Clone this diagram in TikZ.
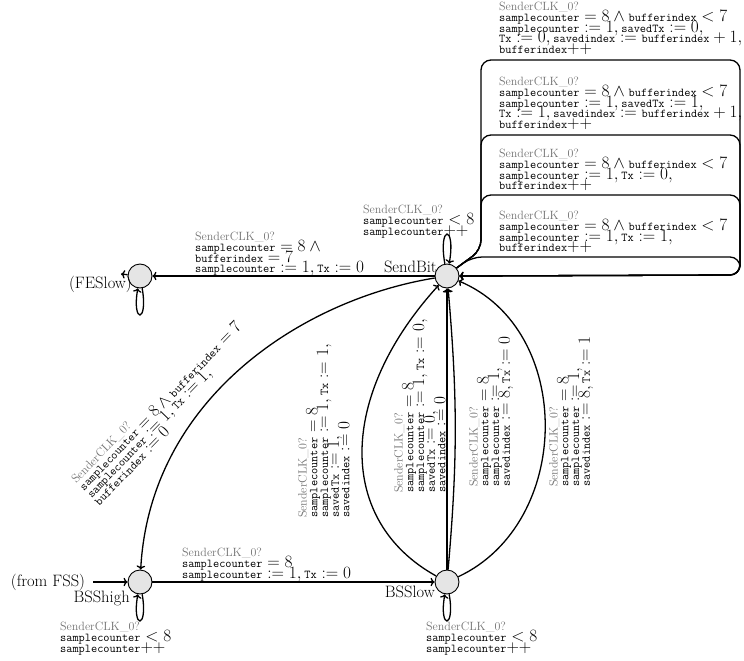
\documentclass[tikz,border=0pt]{standalone}
\usetikzlibrary{arrows.meta}
% label fonts: math operators large, variables in typewriter, channel in small grey roman
\newcommand\lblfont{\fontsize{16.5}{10.7}\selectfont\lineskiplimit=-100pt\lineskip=0pt}
\newcommand\vr[1]{\mbox{\fontsize{12}{10.7}\selectfont\ttfamily #1}}
\newcommand\syn{{\color{black!55}\fontsize{12}{10.7}\selectfont SenderCLK\_0?}}
\begin{document}
\begin{tikzpicture}[x=1pt,y=1pt,
  state/.style={circle,draw,line width=0.9pt,fill=black!10,minimum size=24pt,inner sep=0pt},
  edge/.style={line width=1.3pt,-{To[length=4pt,width=8.5pt]}},
  lbl/.style={font=\lblfont,align=left,inner sep=0pt,anchor=north west},
  sname/.style={font=\fontsize{16.5}{18}\selectfont,inner sep=0pt},
  selfloop/.style={edge,loop,looseness=1,min distance=36pt}]
\useasboundingbox (0,0) rectangle (744,-661);

% locations
\node[state] (FESlow)  at (140,-276) {};
\node[state] (SendBit) at (447,-276) {};
\node[state] (BSShigh) at (140,-582) {};
\node[state] (BSSlow)  at (447,-582) {};

% location names
\node[sname,anchor=base east] (nSendBit) at (437,-272) {SendBit};
\node[sname,anchor=base east] (nFESlow) at (132,-288) {(FESlow)};
\node[sname,anchor=base east] (nBSShigh) at (130,-602) {BSShigh};
\node[sname,anchor=base east] (nBSSlow) at (435,-597) {BSSlow};
\node[sname] (fromFSS) at (48,-582) {(from FSS)};

% entry and exit stubs
\draw[edge,shorten <=8pt] (fromFSS) -- (BSShigh);
\coordinate (FESlowexit) at (121,-274);
\draw[edge] (FESlow) -- (FESlowexit);

% self loops
\draw[selfloop,out=-80,in=-100] (FESlow) to (FESlow);
\draw[selfloop,out=100,in=80,min distance=40pt] (SendBit) to (SendBit);
\draw[selfloop,out=-80,in=-100] (BSShigh) to (BSShigh);
\draw[selfloop,out=-80,in=-100] (BSSlow) to (BSSlow);

% transitions
\draw[edge] (SendBit) -- (FESlow);
\draw[edge] (SendBit) .. controls (300,-300) and (150,-400) .. (BSShigh);
\draw[edge] (BSShigh) -- (BSSlow);
\draw[edge] (BSSlow) -- (SendBit);
\draw[edge] (BSSlow) to[bend right=5] (SendBit);
\draw[edge] (BSSlow) .. controls (337,-521) and (337,-397) .. (SendBit);
\draw[edge] (BSSlow) .. controls (573,-523) and (575,-330) .. (SendBit);

% bit sending loops on the right
\begin{scope}[rounded corners=10pt]
\draw[edge] (SendBit.40) -- (481,-250) -- (481,-60) -- (740,-60) -- (740,-275) -- (SendBit.east);
\draw[edge] (SendBit.40) -- (481,-250) -- (481,-135) -- (740,-135) -- (740,-275) -- (SendBit.east);
\draw[edge] (SendBit.40) -- (481,-250) -- (481,-195) -- (740,-195) -- (740,-275) -- (SendBit.east);
\draw[edge] (SendBit.40) -- (472,-257) -- (740,-257) -- (740,-275) -- (SendBit.east);
\end{scope}

% guards and updates
\node[lbl] (lFE) at (195,-232) {\syn\\ $\vr{samplecounter} = 8 \mathbin{\wedge}{}$\\ $\vr{bufferindex} = 7$\\ $\vr{samplecounter} := 1, \vr{Tx} := 0$};
\node[lbl] (lSB) at (363,-205) {\syn\\ $\vr{samplecounter} < 8$\\ $\vr{samplecounter}{+}{+}$};
\node[lbl] (lHi) at (60,-622) {\syn\\ $\vr{samplecounter} < 8$\\ $\vr{samplecounter}{+}{+}$};
\node[lbl] (lLo) at (426,-622) {\syn\\ $\vr{samplecounter} < 8$\\ $\vr{samplecounter}{+}{+}$};
\node[lbl] (lHL) at (182,-548) {\syn\\ $\vr{samplecounter} = 8$\\ $\vr{samplecounter} := 1, \vr{Tx} := 0$};

\node[lbl] (r1) at (499,-2) {\syn\\ $\vr{samplecounter} = 8 \wedge \vr{bufferindex} < 7$\\ $\vr{samplecounter} := 1, \vr{savedTx} := 0,$\\ $\vr{Tx} := 0, \vr{savedindex} := \vr{bufferindex} + 1,$\\ $\vr{bufferindex}{+}{+}$};
\node[lbl] (r2) at (499,-77) {\syn\\ $\vr{samplecounter} = 8 \wedge \vr{bufferindex} < 7$\\ $\vr{samplecounter} := 1, \vr{savedTx} := 1,$\\ $\vr{Tx} := 1, \vr{savedindex} := \vr{bufferindex} + 1,$\\ $\vr{bufferindex}{+}{+}$};
\node[lbl] (r3) at (499,-149) {\syn\\ $\vr{samplecounter} = 8 \wedge \vr{bufferindex} < 7$\\ $\vr{samplecounter} := 1, \vr{Tx} := 0,$\\ $\vr{bufferindex}{+}{+}$};
\node[lbl] (r4) at (499,-211) {\syn\\ $\vr{samplecounter} = 8 \wedge \vr{bufferindex} < 7$\\ $\vr{samplecounter} := 1, \vr{Tx} := 1,$\\ $\vr{bufferindex}{+}{+}$};

\node[lbl,rotate=46] (lDiag) at (70,-478) {\syn\\ $\vr{samplecounter} = 8 \wedge \vr{bufferindex} = 7$\\ $\vr{samplecounter} := 1, \vr{Tx} := 1,$\\ $\vr{bufferindex} := 0$};
\node[lbl,rotate=90] (v1) at (298,-518) {\syn\\ $\vr{samplecounter} = 8$\\ $\vr{samplecounter} := 1, \vr{Tx} := 1,$\\ $\vr{savedTx} := 1,$\\ $\vr{savedindex} := 0$};
\node[lbl,rotate=90] (v2) at (394,-493) {\syn\\ $\vr{samplecounter} = 8$\\ $\vr{samplecounter} := 1, \vr{Tx} := 0,$\\ $\vr{savedTx} := 0,$\\ $\vr{savedindex} := 0$};
\node[lbl,rotate=90] (v3) at (469,-487) {\syn\\ $\vr{samplecounter} = 8$\\ $\vr{samplecounter} := 1,$\\ $\vr{savedindex} := 8, \vr{Tx} := 0$};
\node[lbl,rotate=90] (v4) at (549,-487) {\syn\\ $\vr{samplecounter} = 8$\\ $\vr{samplecounter} := 1,$\\ $\vr{savedindex} := 8, \vr{Tx} := 1$};
\end{tikzpicture}
\end{document}
